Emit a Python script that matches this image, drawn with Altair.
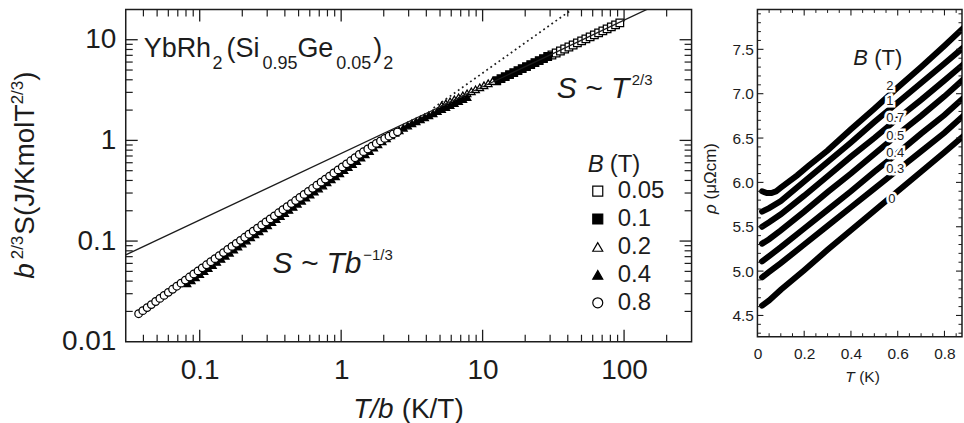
import altair as alt
import pandas as pd

# ---------------- left panel data: scaled entropy b^(2/3) S vs T/b ----------------
b_levels = ["0.05", "0.1", "0.2", "0.4", "0.8"]

x_b005 = [30.90, 33.11, 35.48, 38.02, 40.74, 43.65, 46.77, 50.12, 53.70, 57.54, 61.66,
          66.07, 70.79, 75.86, 81.28, 87.10, 93.33]
s_b005 = [7.047, 7.379, 7.727, 8.091, 8.472, 8.872, 9.290, 9.727, 10.19, 10.67, 11.17,
          11.69, 12.25, 12.82, 13.43, 14.06, 14.72]

x_b01 = [12.59, 13.49, 14.45, 15.49, 16.60, 17.78, 19.05, 20.42, 21.88, 23.44, 25.12, 26.92, 28.84]
s_b01 = [3.917, 4.102, 4.295, 4.498, 4.710, 4.932, 5.164, 5.408, 5.662, 5.929, 6.209, 6.501, 6.808]

x_b02 = [5.129, 5.495, 5.888, 6.310, 6.761, 7.244, 7.762, 8.318, 8.913, 9.550, 10.23, 10.96, 11.75]
s_b02 = [2.228, 2.333, 2.443, 2.559, 2.679, 2.805, 2.938, 3.076, 3.221, 3.373, 3.532, 3.698, 3.873]

x_b04 = [0.0813, 0.0871, 0.0933, 0.1000, 0.1072, 0.1148, 0.1230, 0.1318, 0.1413, 0.1514,
         0.1622, 0.1738, 0.1862, 0.1995, 0.2138, 0.2291, 0.2455, 0.2630, 0.2818, 0.3020,
         0.3236, 0.3467, 0.3715, 0.3981, 0.4266, 0.4571, 0.4898, 0.5248, 0.5623, 0.6026,
         0.6457, 0.6918, 0.7413, 0.7943, 0.8511, 0.9120, 0.9772, 1.0471, 1.1220, 1.2023,
         1.2882, 1.3804, 1.4791, 1.5849, 1.6982, 1.8197, 1.9498, 2.0893, 2.2387, 2.3988,
         2.5704, 2.7542, 2.9512, 3.1623, 3.3884, 3.6308, 3.8905, 4.1687, 4.4668, 4.7863,
         5.1286, 5.4954, 5.8884, 6.3096, 6.7608, 7.2444, 7.7625]
s_b04 = [0.03802, 0.04078, 0.04373, 0.04690, 0.05030, 0.05394, 0.05785, 0.06204, 0.06654, 0.07136,
         0.07653, 0.08208, 0.08803, 0.09441, 0.1013, 0.1086, 0.1165, 0.1249, 0.1340, 0.1437,
         0.1541, 0.1652, 0.1772, 0.1901, 0.2038, 0.2186, 0.2344, 0.2514, 0.2697, 0.2892,
         0.3101, 0.3326, 0.3567, 0.3826, 0.4103, 0.4400, 0.4719, 0.5061, 0.5428, 0.5821,
         0.6237, 0.6730, 0.7278, 0.7852, 0.8472, 0.9120, 0.9772, 1.0471, 1.1220, 1.1912,
         1.2589, 1.3335, 1.4060, 1.4791, 1.5488, 1.6218, 1.6982, 1.7783, 1.8621, 1.9498,
         2.0417, 2.1380, 2.2387, 2.3442, 2.4547, 2.5704, 2.6915]

x_b08 = [0.0370, 0.0396, 0.0425, 0.0455, 0.0488, 0.0523, 0.0560, 0.0600, 0.0643, 0.0689,
         0.0738, 0.0791, 0.0847, 0.0908, 0.0973, 0.1042, 0.1117, 0.1197, 0.1282, 0.1374,
         0.1472, 0.1578, 0.1690, 0.1811, 0.1941, 0.2080, 0.2228, 0.2388, 0.2559, 0.2742,
         0.2938, 0.3148, 0.3373, 0.3614, 0.3873, 0.4150, 0.4446, 0.4764, 0.5105, 0.5470,
         0.5861, 0.6281, 0.6730, 0.7211, 0.7727, 0.8279, 0.8872, 0.9506, 1.0186, 1.0914,
         1.1695, 1.2531, 1.3427, 1.4388, 1.5417, 1.6520, 1.7701, 1.8967, 2.0324, 2.1777,
         2.3335, 2.5004]
s_b08 = [0.01897, 0.02034, 0.02182, 0.02340, 0.02510, 0.02692, 0.02887, 0.03096, 0.03320, 0.03561,
         0.03819, 0.04096, 0.04393, 0.04711, 0.05053, 0.05419, 0.05812, 0.06233, 0.06685, 0.07170,
         0.07689, 0.08246, 0.08844, 0.09485, 0.1017, 0.1091, 0.1170, 0.1255, 0.1346, 0.1443,
         0.1548, 0.1660, 0.1781, 0.1910, 0.2048, 0.2197, 0.2356, 0.2527, 0.2710, 0.2906,
         0.3117, 0.3343, 0.3585, 0.3845, 0.4124, 0.4423, 0.4744, 0.5088, 0.5456, 0.5852,
         0.6276, 0.6731, 0.7244, 0.7727, 0.8222, 0.8750, 0.9333, 0.9886, 1.0471, 1.1015,
         1.1588, 1.2162]

# guide lines (end points)
solid_x = [0.03, 145.0]
solid_s = [0.073, 20.0]
dotted_x = [4.5, 42.0]
dotted_s = [2.10, 19.6]

# ---------------- right panel data: resistivity rho(T) ----------------
t_common = [0.02, 0.05, 0.10, 0.20, 0.30, 0.40, 0.50, 0.60, 0.70, 0.80, 0.88]
rho_b0 = [4.61, 4.67, 4.79, 5.01, 5.24, 5.46, 5.68, 5.90, 6.12, 6.34, 6.52]
rho_b03 = [4.93, 4.99, 5.09, 5.30, 5.51, 5.72, 5.93, 6.14, 6.35, 6.56, 6.75]
rho_b04 = [5.11, 5.17, 5.27, 5.48, 5.69, 5.90, 6.12, 6.33, 6.55, 6.76, 6.95]
rho_b05 = [5.31, 5.36, 5.46, 5.67, 5.89, 6.10, 6.32, 6.54, 6.75, 6.97, 7.16]
rho_b07 = [5.50, 5.55, 5.64, 5.85, 6.07, 6.29, 6.50, 6.72, 6.93, 7.15, 7.33]
rho_b1 = [5.67, 5.71, 5.79, 6.01, 6.23, 6.45, 6.68, 6.90, 7.12, 7.34, 7.52]
t_b2 = [0.02, 0.04, 0.06, 0.08, 0.10, 0.13, 0.17, 0.22, 0.30, 0.40, 0.50, 0.60, 0.70, 0.80, 0.88]
rho_b2 = [5.90, 5.88, 5.88, 5.90, 5.94, 6.00, 6.08, 6.19, 6.36, 6.60, 6.83, 7.07, 7.30, 7.54, 7.74]

# ---------------- build tables ----------------
series = [("0.05", x_b005, s_b005), ("0.1", x_b01, s_b01), ("0.2", x_b02, s_b02),
          ("0.4", x_b04, s_b04), ("0.8", x_b08, s_b08)]
rows = []
for lab, xs_, ss_ in series:
    for a, b in zip(xs_, ss_):
        rows.append({"x": a, "s": b, "B": lab})
ent = pd.DataFrame(rows)

rcurves = [("0", t_common, rho_b0), ("0.3", t_common, rho_b03), ("0.4", t_common, rho_b04),
           ("0.5", t_common, rho_b05), ("0.7", t_common, rho_b07), ("1", t_common, rho_b1),
           ("2", t_b2, rho_b2)]
rrows = []
for lab, ts, rs in rcurves:
    for a, b in zip(ts, rs):
        rrows.append({"T": a, "rho": b, "B": lab})
res = pd.DataFrame(rrows)

FONT = "Liberation Sans"
INK = "#1c1c1c"


def one():
    return alt.Data(values=[{"k": 0}])


def txt(text, x, y, size, italic=False, angle=None, align="left",
        baseline="alphabetic", halo=None):
    kw = dict(text=text, fontSize=size, font=FONT,
              fontStyle="italic" if italic else "normal",
              align=align, baseline=baseline)
    if angle is not None:
        kw["angle"] = angle
    if halo:
        kw.update(color="white", stroke="white", strokeWidth=halo)
    else:
        kw.update(color=INK)
    return alt.Chart(one()).mark_text(**kw).encode(x=alt.value(x), y=alt.value(y))


def anchor(x, y):
    return alt.Chart(one()).mark_rule(opacity=0, strokeOpacity=0).encode(
        x=alt.value(x), x2=alt.value(x + 1), y=alt.value(y), y2=alt.value(y))


def xticks(vals, field, scale, axis, length, H, width):
    df = pd.DataFrame({field: vals})
    base = alt.Chart(df).mark_rule(color=INK, strokeWidth=width)
    xe = alt.X(f"{field}:Q", scale=scale, axis=axis)
    return [base.encode(x=xe, y=alt.value(H), y2=alt.value(H - length)),
            base.encode(x=xe, y=alt.value(0), y2=alt.value(length))]


def yticks(vals, field, scale, axis, length, W, width):
    df = pd.DataFrame({field: vals})
    base = alt.Chart(df).mark_rule(color=INK, strokeWidth=width)
    ye = alt.Y(f"{field}:Q", scale=scale, axis=axis)
    return [base.encode(y=ye, x=alt.value(0), x2=alt.value(length)),
            base.encode(y=ye, x=alt.value(W), x2=alt.value(W - length))]


def make_axis(values, size, pad, fmt=None, expr=None):
    kw = dict(values=values, ticks=False, domain=False, grid=False, labelFontSize=size,
              labelFont=FONT, labelColor=INK, labelPadding=pad, labelFlush=False,
              labelOverlap=False, title=None)
    if fmt:
        kw["format"] = fmt
    if expr:
        kw["labelExpr"] = expr
    return alt.Axis(**kw)


# ---------------- left panel ----------------
LW, LH = 567, 333
xs = alt.Scale(type="log", domain=[0.03, 300], nice=False)
ys = alt.Scale(type="log", domain=[0.01, 20], nice=False)
AXL = make_axis([0.1, 1, 10, 100], 28, 15, fmt="~g")
AYL = make_axis([0.01, 0.1, 1, 10], 28, 10, fmt="~g")

leg = alt.Legend(orient="none", legendX=461, legendY=170, title=None, symbolSize=100,
                 labelFontSize=24, labelFont=FONT, labelColor=INK, labelOffset=8,
                 rowPadding=4, padding=0, symbolStrokeWidth=1.2)

points = alt.Chart(ent).mark_point(filled=True, opacity=1, strokeWidth=1.25, size=58).encode(
    x=alt.X("x:Q", scale=xs, axis=AXL),
    y=alt.Y("s:Q", scale=ys, axis=AYL),
    shape=alt.Shape("B:N", scale=alt.Scale(domain=b_levels,
                                           range=["square", "square", "triangle-up",
                                                  "triangle-up", "circle"]), legend=leg),
    fill=alt.Fill("B:N", scale=alt.Scale(domain=b_levels,
                                         range=["white", "black", "white", "black", "white"]),
                  legend=leg),
    stroke=alt.Stroke("B:N", scale=alt.Scale(domain=b_levels, range=["black"] * 5),
                      legend=leg),
)

solid = alt.Chart(pd.DataFrame({"x": solid_x, "s": solid_s})).mark_line(
    color=INK, strokeWidth=1.3, clip=True).encode(
    x=alt.X("x:Q", scale=xs, axis=AXL), y=alt.Y("s:Q", scale=ys, axis=AYL))
dotted = alt.Chart(pd.DataFrame({"x": dotted_x, "s": dotted_s})).mark_line(
    color=INK, strokeWidth=1.7, strokeDash=[1.8, 3.2], clip=True).encode(
    x=alt.X("x:Q", scale=xs, axis=AXL), y=alt.Y("s:Q", scale=ys, axis=AYL))

x_major = [0.1, 1, 10, 100]
x_minor = [round(m * 10 ** e, 6) for e in (-2, -1, 0, 1, 2) for m in range(2, 10)
           if 0.031 < m * 10 ** e < 290]
y_major = [0.1, 1, 10]
y_minor = [round(m * 10 ** e, 6) for e in (-2, -1, 0, 1) for m in range(2, 10)
           if 0.011 < m * 10 ** e < 19]

left_layers = [points, solid, dotted]
left_layers += xticks(x_major, "x", xs, AXL, 12, LH, 1.3) + xticks(x_minor, "x", xs, AXL, 7, LH, 1.2)
left_layers += yticks(y_major, "s", ys, AYL, 12, LW, 1.3) + yticks(y_minor, "s", ys, AYL, 7, LW, 1.2)
left_layers += [
    # y title  b^{2/3} S (J/Kmol T^{2/3})
    txt("b", -92, 270, 28, italic=True, angle=270),
    txt("2/3", -103, 250.4, 17, angle=270),
    txt("S(J/KmolT", -92, 225.8, 28, angle=270),
    txt("2/3", -103, 95.1, 17, angle=270),
    txt(")", -92, 71.5, 28, angle=270),
    # x title
    txt("T/b", 228, 409, 28, italic=True),
    txt("(K/T)", 276.5, 409, 28),
    # compound
    txt("YbRh", 18, 48, 27), txt("2", 87, 60, 18), txt("(Si", 101, 48, 27),
    txt("0.95", 137, 60, 18), txt("Ge", 172, 48, 27), txt("0.05", 211, 60, 18),
    txt(")", 248, 48, 27), txt("2", 258, 60, 18),
    # power laws
    txt("S ~ T", 432, 89, 30, italic=True), txt("2/3", 507, 76, 15),
    txt("S ~ Tb", 147, 264, 30, italic=True), txt("\u22121/3", 238, 251, 15),
    # legend heading
    txt("B", 463, 163, 24, italic=True), txt("(T)", 485, 163, 24),
    anchor(-125, -4),
]
left = alt.layer(*left_layers).properties(width=LW, height=LH)

# ---------------- right panel ----------------
RW, RH = 205, 328
xs2 = alt.Scale(domain=[0, 0.875], nice=False, zero=False)
ys2 = alt.Scale(domain=[4.26, 7.95], nice=False, zero=False)
AXR = make_axis([0, 0.2, 0.4, 0.6, 0.8], 15.5, 10,
                expr="datum.value == 0 ? '0' : format(datum.value, '.1f')")
AYR = make_axis([4.5, 5.0, 5.5, 6.0, 6.5, 7.0, 7.5], 15.5, 4, fmt=".1f")

curves = alt.Chart(res).mark_line(color="black", strokeWidth=6, strokeCap="round",
                                  clip=True).encode(
    x=alt.X("T:Q", scale=xs2, axis=AXR),
    y=alt.Y("rho:Q", scale=ys2, axis=AYR),
    detail="B:N",
)

rx_major = [0.2, 0.4, 0.6, 0.8]
rx_minor = [round(0.05 * i, 2) for i in range(1, 18) if i % 4 != 0]
ry_major = [4.5, 5.0, 5.5, 6.0, 6.5, 7.0, 7.5]
ry_minor = [round(4.3 + 0.1 * i, 1) for i in range(0, 37) if (i + 3) % 5 != 0]

curve_labels = [("2", 129, 77), ("1", 129, 92), ("0.7", 129, 109), ("0.5", 129, 127),
                ("0.4", 129, 144), ("0.3", 129, 160), ("0", 131, 190)]

right_layers = [curves]
right_layers += xticks(rx_major, "T", xs2, AXR, 6, RH, 1.1) + xticks(rx_minor, "T", xs2, AXR, 3.5, RH, 1.0)
right_layers += yticks(ry_major, "rho", ys2, AYR, 6, RW, 1.1) + yticks(ry_minor, "rho", ys2, AYR, 3.5, RW, 1.0)
for t, x, y in curve_labels:
    right_layers.append(txt(t, x, y, 13, baseline="middle", halo=5))
for t, x, y in curve_labels:
    right_layers.append(txt(t, x, y, 13, baseline="middle"))
right_layers += [
    txt("B", 96, 56, 22, italic=True), txt("(T)", 117, 56, 22),
    txt("T", 88, 373, 15.5, italic=True), txt("(K)", 102, 373, 15.5),
    txt("\u03c1", -42, 205, 17, italic=True, angle=270),
    txt("(\u03bc\u03a9cm)", -42, 190.4, 17, angle=270),
    anchor(-57, -8),
]
right = alt.layer(*right_layers).properties(width=RW, height=RH)

chart = alt.hconcat(left, right, spacing=6).properties(
    padding={"left": 0, "top": 0, "right": 0, "bottom": 0}
).configure(font=FONT, background="white").configure_view(stroke=INK, strokeWidth=1.5)

chart.save("out.html", embed_options={"renderer": "svg", "actions": False})
